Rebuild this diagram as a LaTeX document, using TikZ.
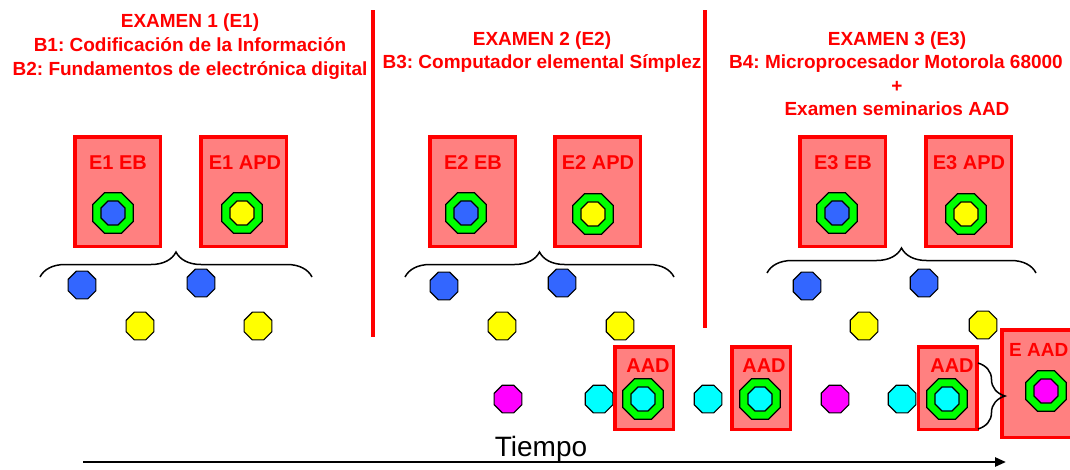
\documentclass[tikz,border=0pt]{standalone}
\usepackage{fontspec}
\setmainfont{Liberation Sans}
\frenchspacing
\usetikzlibrary{shapes.geometric,decorations.pathreplacing,arrows.meta}
\definecolor{rojo}{RGB}{255,0,0}
\definecolor{rosa}{RGB}{255,128,128}
\definecolor{verde}{RGB}{0,255,0}
\definecolor{azul}{RGB}{51,102,255}
\definecolor{amarillo}{RGB}{255,255,0}
\definecolor{cian}{RGB}{0,255,255}
\definecolor{fucsia}{RGB}{255,0,255}

\begin{document}
\begin{tikzpicture}[x=1pt,y=-1pt,
	titulo/.style={text=rojo,font=\fontsize{19}{22}\selectfont\bfseries,anchor=base,inner sep=0},
	caja/.style={draw=rojo,fill=rosa,line width=3.5pt,inner sep=0},
	cajatxt/.style={text=rojo,font=\fontsize{20}{24}\selectfont\bfseries,inner sep=0},
	oct/.style={regular polygon,regular polygon sides=8,draw=black,line width=1.2pt,inner sep=0},
	punto/.style={oct,minimum size=30pt},
	anillo/.style={oct,fill=verde,minimum size=44pt},
	nucleo/.style={oct,minimum size=26pt},
	separador/.style={rojo,line width=4pt},
	llave/.style={decorate,decoration={brace,amplitude=25pt},line width=1.5pt}]
	%\draw[help lines] (0,0) grid[step=50] (1070,469);
	\useasboundingbox (0,0) rectangle (1070,469);

	\path
	coordinate (sep1a) at (373,10)
	coordinate (sep1b) at (373,337)
	coordinate (sep2a) at (705,10)
	coordinate (sep2b) at (705,328)
	coordinate (ll1a) at (40,277)
	coordinate (ll1b) at (312,277)
	coordinate (ll2a) at (405,277)
	coordinate (ll2b) at (674,277)
	coordinate (ll3a) at (767,273)
	coordinate (ll3b) at (1036,273)
	coordinate (ll4a) at (978,363)
	coordinate (ll4b) at (978,429)
	coordinate (t0) at (83,462)
	coordinate (t1) at (1006,462)
	;

	% cabeceras
	\node[titulo] (ex1) at (190,27) {EXAMEN 1 (E1)};
	\node[titulo] (ex1b) at (190,51) {B1: Codificación de la Información};
	\node[titulo] (ex1c) at (190,75) {B2: Fundamentos de electrónica digital};
	\node[titulo] (ex2) at (542,45) {EXAMEN 2 (E2)};
	\node[titulo] (ex2b) at (542,68) {B3: Computador elemental Símplez};
	\node[titulo] (ex3) at (897,45) {EXAMEN 3 (E3)};
	\node[titulo] (ex3b) at (896,68) {B4: Microprocesador Motorola 68000};
	\node[titulo] (ex3c) at (897,92) {+};
	\node[titulo] (ex3d) at (897,115) {Examen seminarios AAD};

	\draw[separador] (sep1a) -- (sep1b);
	\draw[separador] (sep2a) -- (sep2b);

	% cajas de examen
	\node[caja,minimum width=85.5pt,minimum height=109.5pt] (e1eb) at (117.5,191.5) {};
	\node[caja,minimum width=85.5pt,minimum height=109.5pt] (e1apd) at (243.5,191.5) {};
	\node[caja,minimum width=85.5pt,minimum height=109.5pt] (e2eb) at (472.5,191.5) {};
	\node[caja,minimum width=85.5pt,minimum height=109.5pt] (e2apd) at (597.5,191.5) {};
	\node[caja,minimum width=85.5pt,minimum height=109.5pt] (e3eb) at (842.5,191.5) {};
	\node[caja,minimum width=85.5pt,minimum height=109.5pt] (e3apd) at (968.5,191.5) {};

	\node[cajatxt] (l1eb) at (118,163) {E1 EB};
	\node[cajatxt] (l1apd) at (245,163) {E1 APD};
	\node[cajatxt] (l2eb) at (473,163) {E2 EB};
	\node[cajatxt] (l2apd) at (598,163) {E2 APD};
	\node[cajatxt] (l3eb) at (843,163) {E3 EB};
	\node[cajatxt] (l3apd) at (969,163) {E3 APD};

	\node[anillo] (r1eb) at (113,213) {};
	\node[nucleo,fill=azul] at (r1eb) {};
	\node[anillo] (r1apd) at (242,213) {};
	\node[nucleo,fill=amarillo] at (r1apd) {};
	\node[anillo] (r2eb) at (466,213) {};
	\node[nucleo,fill=azul] at (r2eb) {};
	\node[anillo] (r2apd) at (593,214) {};
	\node[nucleo,fill=amarillo] at (r2apd) {};
	\node[anillo] (r3eb) at (837,213) {};
	\node[nucleo,fill=azul] at (r3eb) {};
	\node[anillo] (r3apd) at (966,214) {};
	\node[nucleo,fill=amarillo] at (r3apd) {};

	\draw[llave] (ll1a) -- (ll1b);
	\draw[llave] (ll2a) -- (ll2b);
	\draw[llave] (ll3a) -- (ll3b);

	% entregas
	\node[punto,fill=azul] (az1) at (82,285) {};
	\node[punto,fill=azul] (az2) at (201,283) {};
	\node[punto,fill=azul] (az3) at (444,286) {};
	\node[punto,fill=azul] (az4) at (562,283) {};
	\node[punto,fill=azul] (az5) at (807,286) {};
	\node[punto,fill=azul] (az6) at (924,283) {};
	\node[punto,fill=amarillo] (am1) at (140,326) {};
	\node[punto,fill=amarillo] (am2) at (258,326) {};
	\node[punto,fill=amarillo] (am3) at (502,326) {};
	\node[punto,fill=amarillo] (am4) at (620,326) {};
	\node[punto,fill=amarillo] (am5) at (864,326) {};
	\node[punto,fill=amarillo] (am6) at (983,325) {};

	\node[punto,fill=fucsia] (fu1) at (508,399) {};
	\node[punto,fill=fucsia] (fu2) at (835,399) {};
	\node[punto,fill=cian] (ci1) at (599,399) {};
	\node[punto,fill=cian] (ci2) at (708,399) {};
	\node[punto,fill=cian] (ci3) at (902,399) {};

	% seminarios AAD
	\node[caja,minimum width=58.5pt,minimum height=82.5pt] (aad1) at (644,388) {};
	\node[caja,minimum width=58.5pt,minimum height=82.5pt] (aad2) at (761,388) {};
	\node[caja,minimum width=58.5pt,minimum height=82.5pt] (aad3) at (947.5,388) {};
	\node[caja,minimum width=80pt,minimum height=107.5pt] (eaad) at (1042,383.5) {};

	\node[cajatxt] (laad1) at (648,366) {AAD};
	\node[cajatxt] (laad2) at (764,366) {AAD};
	\node[cajatxt] (laad3) at (952,366) {AAD};
	\node[cajatxt,anchor=west,font=\fontsize{19}{22}\selectfont\bfseries] (leaad) at (1009,350) {E AAD};

	\node[anillo] (ra1) at (643,399) {};
	\node[nucleo,fill=cian] at (ra1) {};
	\node[anillo] (ra2) at (760,399) {};
	\node[nucleo,fill=cian] at (ra2) {};
	\node[anillo] (ra3) at (947,399) {};
	\node[nucleo,fill=cian] at (ra3) {};
	\node[anillo] (rea) at (1046,391) {};
	\node[nucleo,fill=fucsia] at (rea) {};

	\draw[llave,decoration={amplitude=27pt}] (ll4a) -- (ll4b);

	% eje de tiempo
	\node[font=\fontsize{28}{32}\selectfont,anchor=base,inner sep=0] (tiempo) at (541,456) {Tiempo};
	\draw[line width=2.5pt,-{Triangle[length=11pt,width=9pt]}] (t0) -- (t1);

\end{tikzpicture}
\end{document}
